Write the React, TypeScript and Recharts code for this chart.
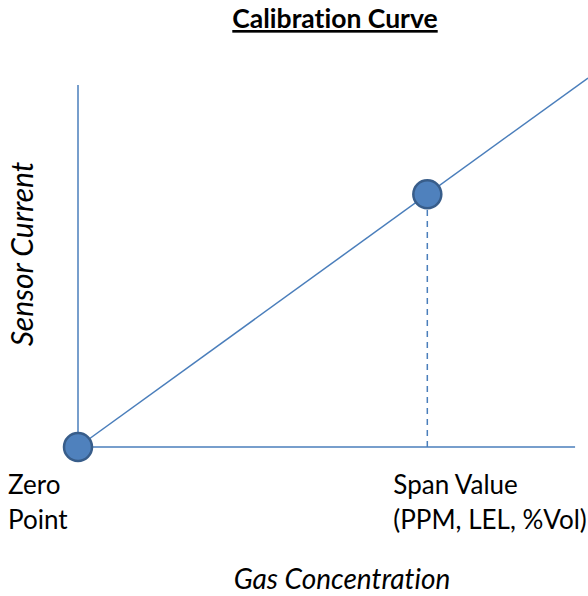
import { ComposedChart, Line, Scatter, XAxis, YAxis, ReferenceLine, Customized, Label } from "recharts";

// calibration: zero point and span point, line y = x extended past the span
const calPoints = [
  { x: 0, y: 0, name: "Zero Point" },
  { x: 100, y: 100, name: "Span Value" },
];
const curve = [
  { x: 0, y: 0 },
  { x: 146, y: 146 },
];
const tickValues = [0, 100];
const tickLabels: Record<number, string[]> = {
  0: ["Zero", "Point"],
  100: ["Span Value", "(PPM, LEL, %Vol)"],
};
const axisTopY = 143.2;
const axisRightX = 142.3;

const BLUE = "#4a7ebb";
const FONT = "Lato, 'Open Sans', sans-serif";
const noLig = { fontVariantLigatures: "none" } as const;

const Dot = (props: any) => (
  <circle cx={props.cx} cy={props.cy} r={14} fill="#4f81bd" stroke="#385d8a" strokeWidth={2.5} />
);

const TwoLineTick = (props: any) => {
  const { x, y, payload } = props;
  const lines = tickLabels[payload.value] || [];
  const dx = payload.value === 0 ? -70 : -34;
  return (
    <text x={x + dx} y={y} fontFamily={FONT} fontSize={26} fill="#000" textAnchor="start" style={noLig}>
      {lines.map((l, i) => (
        <tspan key={i} x={x + dx} dy={i === 0 ? 39 : 35}>
          {l}
        </tspan>
      ))}
    </text>
  );
};

const Texts = () => (
  <g>
    <text x={335} y={28} textAnchor="middle" fontFamily={FONT} fontWeight="bold" fontSize={26.5} textDecoration="underline" fill="#000" style={noLig}>
      Calibration Curve
    </text>
    <text x={33} y={254} transform="rotate(-90, 33, 254)" textAnchor="middle" fontFamily={FONT} fontStyle="italic" fontSize={30} fill="#000" style={noLig}>
      Sensor Current
    </text>
  </g>
);

export default function App() {
  return (
    <div style={{ position: "absolute", left: 0, top: 0, background: "#fff" }}>
      <ComposedChart width={588} height={596} margin={{ top: 78, right: 0, bottom: 0, left: 0 }}>
        <XAxis
          type="number"
          dataKey="x"
          domain={[0, 146]}
          ticks={tickValues}
          axisLine={false}
          tickLine={false}
          tick={<TwoLineTick />}
          height={149}
          interval={0}
        >
          <Label value="Gas Concentration" position="insideBottom" offset={7} fontFamily={FONT} fontStyle="italic" fontSize={28} fill="#000" dx={9} style={noLig} />
        </XAxis>
        <YAxis type="number" dataKey="y" domain={[0, 146]} width={78} axisLine={false} tickLine={false} tick={false} />
        <ReferenceLine segment={[{ x: 0, y: 0 }, { x: 0, y: axisTopY }]} stroke={BLUE} strokeWidth={1.5} />
        <ReferenceLine segment={[{ x: 0, y: 0 }, { x: axisRightX, y: 0 }]} stroke={BLUE} strokeWidth={1.5} />
        <ReferenceLine segment={[{ x: 100, y: 0 }, { x: 100, y: 100 }]} stroke={BLUE} strokeWidth={1.5} strokeDasharray="6 5" />
        <Line data={curve} dataKey="y" stroke={BLUE} strokeWidth={1.5} dot={false} isAnimationActive={false} />
        <Scatter data={calPoints} dataKey="y" shape={<Dot />} isAnimationActive={false} />
        <Customized component={Texts} />
      </ComposedChart>
    </div>
  );
}
